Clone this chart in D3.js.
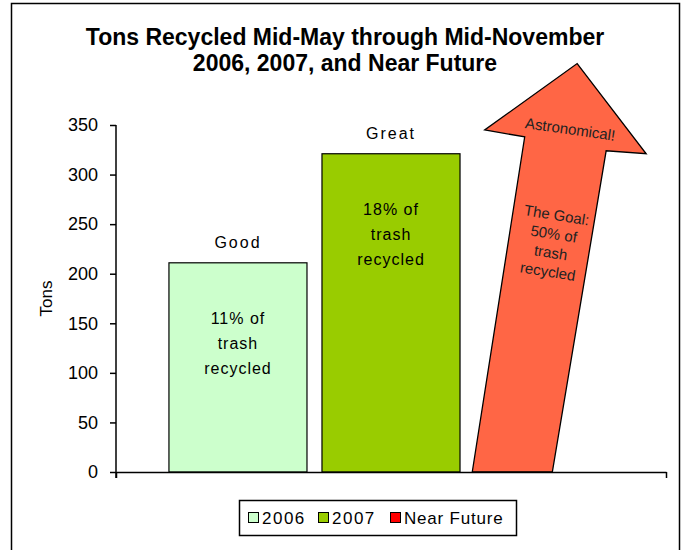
<!DOCTYPE html>
<html>
<head>
<meta charset="utf-8">
<script src="https://cdn.jsdelivr.net/npm/d3@7"></script>
<style>
  body { margin: 0; background: #fff; }
  svg { font-family: "Liberation Sans", Arial, sans-serif; display: block; }
</style>
</head>
<body>
<div id="chart"></div>
<script>
const series = ['2006', '2007', 'Near Future'];
const values = [211, 321];
const colors = ['#ccffcc', '#99cc00', '#ff0000'];
const topLabels = ['Good', 'Great'];
const innerLabels = [['11% of', 'trash', 'recycled'], ['18% of', 'trash', 'recycled']];
const yTicks = [0, 50, 100, 150, 200, 250, 300, 350];

// the hand-drawn "Near Future" arrow: [fraction of its bar slot, tons]
const arrowShape = [[-0.02, 0], [0.36, 338], [0.07, 345], [0.74, 412], [1.24, 321], [0.95, 324], [0.56, 0]];
const arrowHeadText = 'Astronomical!';
const arrowBodyText = ['The Goal:', '50% of', 'trash', 'recycled'];

const width = 684, height = 550;
const plot = { left: 116, right: 666, top: 125, bottom: 472 };

const svg = d3.select('#chart').append('svg')
  .attr('width', width)
  .attr('height', height);

// outer chart frame
svg.append('rect')
  .attr('x', 11.5).attr('y', 3.5)
  .attr('width', 668).attr('height', 560)
  .attr('fill', 'none')
  .attr('stroke', '#000')
  .attr('stroke-width', 1.5);

// title
const title = svg.append('text')
  .attr('text-anchor', 'middle')
  .attr('font-weight', 'bold')
  .attr('font-size', 23)
  .attr('fill', '#000');
title.append('tspan').attr('x', 345).attr('y', 45).text('Tons Recycled Mid-May through Mid-November');
title.append('tspan').attr('x', 345).attr('y', 71).text('2006, 2007, and Near Future');

const x = d3.scaleBand()
  .domain(series)
  .range([plot.left, plot.right])
  .paddingInner(0.098)
  .paddingOuter(0.346);

const y = d3.scaleLinear()
  .domain([0, 350])
  .range([plot.bottom, plot.top]);

// bars
const bars = svg.append('g');
values.forEach((v, i) => {
  bars.append('rect')
    .attr('x', x(series[i]))
    .attr('y', y(v))
    .attr('width', x.bandwidth())
    .attr('height', y(0) - y(v))
    .attr('fill', colors[i])
    .attr('stroke', '#000')
    .attr('stroke-width', 1.2);

  const cx = x(series[i]) + x.bandwidth() / 2;
  bars.append('text')
    .attr('x', cx)
    .attr('y', y(v) - 20)
    .attr('text-anchor', 'middle')
    .attr('dominant-baseline', 'central')
    .attr('font-size', 16)
    .attr('letter-spacing', 2)
    .text(topLabels[i]);

  innerLabels[i].forEach((line, j) => {
    bars.append('text')
      .attr('x', cx)
      .attr('y', y(v) + 56 + j * 25)
      .attr('text-anchor', 'middle')
      .attr('dominant-baseline', 'central')
      .attr('font-size', 16)
      .attr('letter-spacing', 1)
      .text(line);
  });
});

// arrow drawn over the Near Future slot
const slot = x(series[2]);
const arrowPts = arrowShape.map(p => [slot + p[0] * x.bandwidth(), y(p[1])]);
svg.append('path')
  .attr('d', d3.line()(arrowPts) + 'Z')
  .attr('fill', '#ff6645')
  .attr('stroke', '#000')
  .attr('stroke-width', 1.3)
  .attr('stroke-linejoin', 'miter');

svg.append('text')
  .attr('transform', `translate(${slot + 0.69 * x.bandwidth()},${y(346)}) rotate(8)`)
  .attr('text-anchor', 'middle')
  .attr('dominant-baseline', 'central')
  .attr('font-size', 15)
  .attr('fill', '#222')
  .text(arrowHeadText);

const body = svg.append('g')
  .attr('transform', `translate(${slot + 0.56 * x.bandwidth()},${y(231)}) rotate(9)`);
arrowBodyText.forEach((line, j) => {
  body.append('text')
    .attr('x', 0)
    .attr('y', (j - 1.5) * 19)
    .attr('text-anchor', 'middle')
    .attr('dominant-baseline', 'central')
    .attr('font-size', 15)
    .attr('fill', '#222')
    .text(line);
});

// y axis
const yAxis = svg.append('g')
  .attr('transform', `translate(${plot.left},0)`)
  .call(d3.axisLeft(y).tickValues(yTicks).tickSize(6).tickPadding(12).tickSizeOuter(0));
yAxis.select('.domain').remove();
yAxis.append('line')
  .attr('x1', 0).attr('x2', 0)
  .attr('y1', y(350)).attr('y2', y(0) + 6)
  .attr('stroke', '#000').attr('stroke-width', 1.5);
yAxis.selectAll('.tick line').attr('stroke', '#000').attr('stroke-width', 1.5);
yAxis.selectAll('.tick text')
  .attr('font-size', 18)
  .attr('font-family', '"Liberation Sans", Arial, sans-serif')
  .attr('fill', '#000');

// x axis: a single category, ticks only at the ends
const xEdge = d3.scaleLinear().domain([0, 1]).range([plot.left, plot.right]);
const xAxis = svg.append('g')
  .attr('transform', `translate(0,${plot.bottom})`)
  .call(d3.axisBottom(xEdge).tickValues([0, 1]).tickFormat('').tickSize(6).tickSizeOuter(0));
xAxis.select('.domain').attr('stroke', '#000').attr('stroke-width', 1.5);
xAxis.selectAll('.tick line').attr('stroke', '#000').attr('stroke-width', 1.5);

// y title
svg.append('text')
  .attr('transform', `translate(46,${(plot.top + plot.bottom) / 2}) rotate(-90)`)
  .attr('text-anchor', 'middle')
  .attr('dominant-baseline', 'central')
  .attr('font-size', 17)
  .text('Tons');

// legend
const legend = svg.append('g');
legend.append('rect')
  .attr('x', 239.5).attr('y', 500.5)
  .attr('width', 277).attr('height', 35)
  .attr('fill', '#fff')
  .attr('stroke', '#000')
  .attr('stroke-width', 1.5);
const legendX = [248, 318, 390];
series.forEach((s, i) => {
  legend.append('rect')
    .attr('x', legendX[i] + 0.5).attr('y', 512.5)
    .attr('width', 10).attr('height', 10)
    .attr('fill', colors[i])
    .attr('stroke', '#000')
    .attr('stroke-width', 1);
  legend.append('text')
    .attr('x', legendX[i] + 14)
    .attr('y', 518)
    .attr('dominant-baseline', 'central')
    .attr('font-size', 17)
    .attr('letter-spacing', i === 2 ? 0.8 : 1.5)
    .text(s);
});
</script>
</body>
</html>
